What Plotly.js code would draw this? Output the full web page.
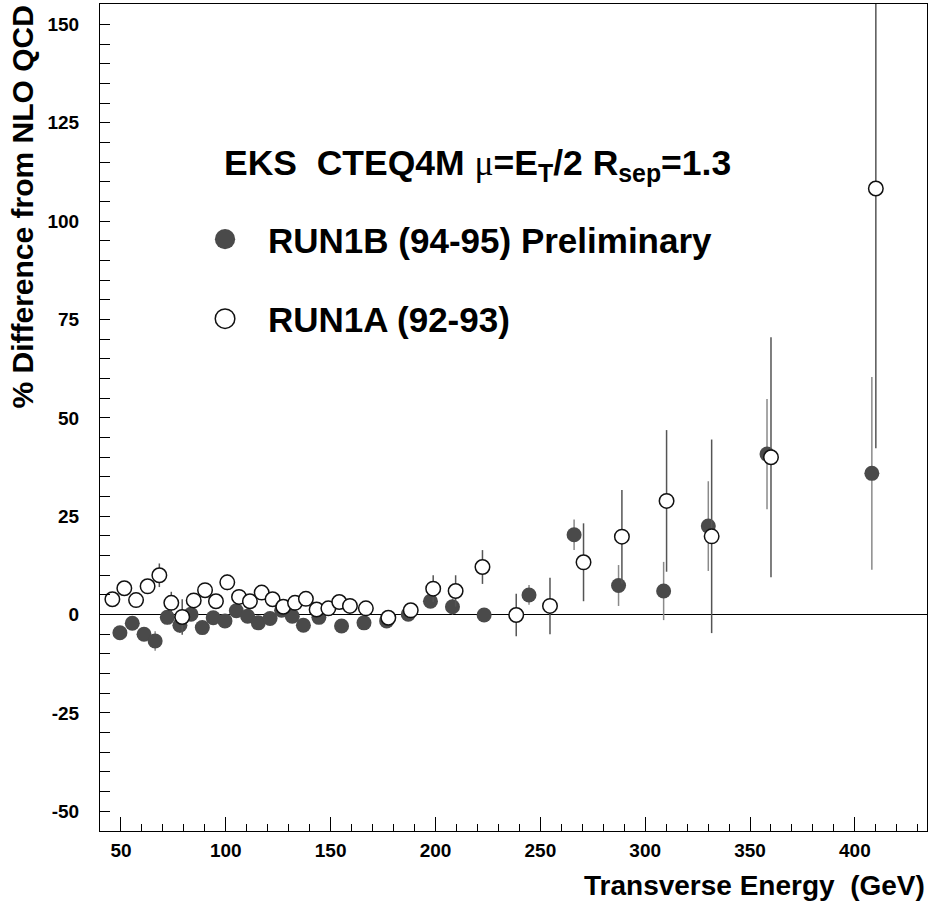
<!DOCTYPE html>
<html>
<head>
<meta charset="utf-8">
<script src="https://cdn.plot.ly/plotly-3.0.1.min.js"></script>
<style>html,body{margin:0;padding:0;background:#fff;}</style>
</head>
<body>
<div id="chart" style="width:935px;height:906px;"></div>
<script>
// RUN1B (94-95) Preliminary — filled circles
const run1bEt  = [49.5, 55.4, 61.0, 66.3, 72.1, 78.1, 83.4, 88.8, 94.0, 99.6, 105.0, 110.4, 115.5, 121.1, 126.6, 131.7, 137.0, 144.4, 155.2, 165.9, 176.7, 187.0, 197.6, 208.1, 223.2, 244.6, 266.1, 287.3, 308.8, 330.1, 358.1, 408.1];
const run1bDiff = [-4.6, -2.2, -5.0, -6.7, -0.7, -2.7, 0.1, -3.3, -0.8, -1.6, 1.0, -0.4, -2.1, -1.0, 1.1, -0.4, -2.7, -0.7, -2.9, -2.1, -1.6, 0.1, 3.4, 2.0, -0.1, 5.0, 20.3, 7.4, 6.0, 22.5, 40.8, 35.9];
const run1bErr  = [1.5, 1.0, 1.2, 2.5, 1.8, 2.0, 1.0, 1.0, 1.0, 1.0, 1.0, 1.0, 1.0, 1.0, 1.0, 1.0, 1.0, 1.0, 1.0, 1.0, 1.0, 1.2, 1.5, 2.0, 1.5, 2.5, 3.9, 5.2, 7.4, 11.4, 14.0, 24.5];

// RUN1A (92-93) — open circles
const run1aEt  = [45.9, 51.6, 57.2, 62.7, 68.3, 74.0, 79.2, 84.7, 90.1, 95.3, 100.7, 106.3, 111.5, 117.1, 122.3, 127.4, 133.0, 138.2, 143.3, 148.9, 154.1, 159.2, 166.8, 177.5, 188.2, 198.9, 209.6, 222.4, 238.5, 254.6, 270.6, 288.9, 310.2, 331.7, 360.0, 410.0];
const run1aDiff = [3.9, 6.7, 3.7, 7.2, 10.0, 3.0, -0.6, 3.6, 6.2, 3.4, 8.2, 4.5, 3.4, 5.6, 3.9, 2.0, 3.0, 4.0, 1.3, 1.6, 3.2, 2.2, 1.6, -0.8, 1.1, 6.6, 6.0, 12.1, -0.1, 2.2, 13.3, 19.8, 28.9, 19.9, 40.0, 108.3];
const run1aErr  = [1.0, 1.2, 1.0, 1.5, 3.0, 2.8, 4.5, 1.2, 1.2, 1.2, 2.0, 1.2, 1.2, 1.5, 1.2, 1.2, 1.2, 1.2, 1.2, 1.2, 1.2, 1.2, 1.2, 1.5, 1.8, 3.4, 4.0, 4.3, 5.4, 7.2, 9.9, 11.9, 18.0, 24.6, 30.5, 66.0];

const xTicks = [50, 100, 150, 200, 250, 300, 350, 400];
const yTicks = [-50, -25, 0, 25, 50, 75, 100, 125, 150];

const FONT = 'Liberation Sans, Arial, Helvetica, sans-serif';

const traces = [
  {
    type: 'scatter', mode: 'markers', name: 'RUN1B (94-95) Preliminary',
    legendgroup: 'b',
    x: run1bEt, y: run1bDiff,
    error_y: {type: 'data', array: run1bErr, visible: true, color: '#8a8a8a', thickness: 1.5, width: 0},
    marker: {symbol: 'circle', size: 15, color: '#4a4a4a', line: {width: 0}}
  },
  {
    type: 'scatter', mode: 'markers', name: 'RUN1A (92-93)',
    legendgroup: 'a',
    x: run1aEt, y: run1aDiff,
    error_y: {type: 'data', array: run1aErr, visible: true, color: '#555555', thickness: 1.5, width: 0},
    marker: {symbol: 'circle', size: 14.5, color: '#ffffff', line: {width: 1.5, color: '#111111'}}
  }
];

const layout = {
  width: 935, height: 906,
  margin: {l: 100, r: 8, t: 4, b: 75},
  paper_bgcolor: '#ffffff', plot_bgcolor: '#ffffff',
  showlegend: true,
  legend: {
    x: 0.0992, y: 0.751, xanchor: 'left', yanchor: 'top',
    font: {family: FONT, size: 35, color: '#000', weight: 'bold'},
    tracegroupgap: 31, bgcolor: 'rgba(0,0,0,0)', borderwidth: 0,
    itemsizing: 'trace', itemwidth: 76
  },
  xaxis: {
    range: [40, 434.4], tickvals: xTicks, ticktext: xTicks.map(String),
    ticks: 'inside', ticklen: 14, tickwidth: 1, tickcolor: '#000',
    minor: {dtick: 10, ticks: 'inside', ticklen: 7, tickcolor: '#000', tickwidth: 1, showgrid: false},
    showline: true, linecolor: '#000', linewidth: 1, mirror: true,
    showgrid: false, zeroline: false,
    tickfont: {family: FONT, size: 19, color: '#000', weight: 'bold'},
    ticklabelstandoff: 2
  },
  yaxis: {
    range: [-55, 155.2], tickvals: yTicks, ticktext: yTicks.map(String),
    ticks: 'inside', ticklen: 10, tickwidth: 1, tickcolor: '#000',
    minor: {dtick: 5, ticks: 'inside', ticklen: 10, tickcolor: '#000', tickwidth: 1, showgrid: false},
    showline: true, linecolor: '#000', linewidth: 1, mirror: true,
    showgrid: false, zeroline: true, zerolinecolor: '#000', zerolinewidth: 1,
    tickfont: {family: FONT, size: 19, color: '#000', weight: 'bold'},
    ticklabelstandoff: 16
  },
  annotations: [
    {
      xref: 'paper', yref: 'paper', x: 0.1475, y: 0.8053, xanchor: 'left', yanchor: 'middle',
      text: 'EKS\u00a0 CTEQ4M <span style="font-family:\'Liberation Serif\',serif;font-weight:normal">\u03bc</span>=E<sub>T</sub>/2 R<sub>sep</sub>=1.3', showarrow: false,
      font: {family: FONT, size: 35.5, color: '#000', weight: 'bold'}
    },
    {
      xref: 'paper', yref: 'paper', x: -0.0943, y: 1.0, xanchor: 'center', yanchor: 'top',
      textangle: -90, text: '% Difference from NLO QCD', showarrow: false,
      font: {family: FONT, size: 30, color: '#000', weight: 'bold'}
    },
    {
      xref: 'paper', yref: 'paper', x: 1.0, y: -0.0653, xanchor: 'right', yanchor: 'middle',
      text: 'Transverse Energy\u00a0 (GeV)', showarrow: false,
      font: {family: FONT, size: 28, color: '#000', weight: 'bold'}
    }
  ]
};

Plotly.newPlot('chart', traces, layout, {displayModeBar: false, staticPlot: true}).then(function () {
  // enlarge the legend symbols to match the reference key
  document.querySelectorAll('#chart .legend .scatterpts').forEach(function (p) {
    const t = p.getAttribute('transform') || '';
    p.setAttribute('transform', t + ' scale(1.35)');
    p.style.vectorEffect = 'non-scaling-stroke';
  });
});
</script>
</body>
</html>
